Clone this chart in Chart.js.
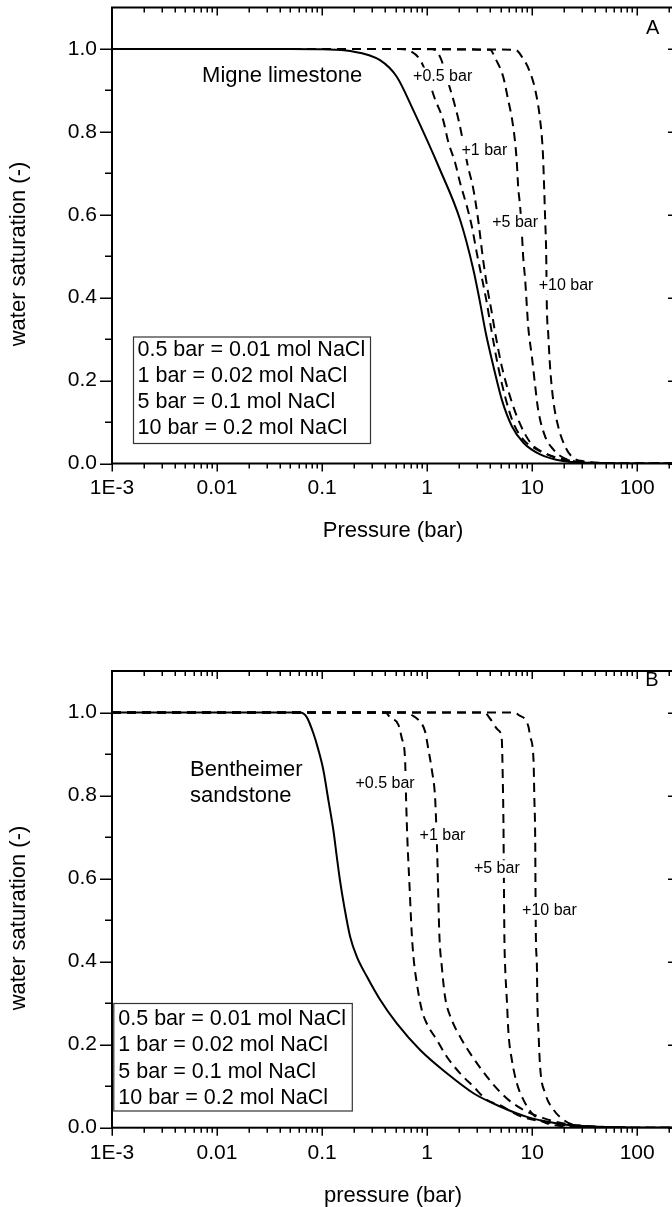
<!DOCTYPE html>
<html><head><meta charset="utf-8">
<script src="https://cdn.jsdelivr.net/npm/chart.js@4.4.1/dist/chart.umd.min.js"></script>
<style>
html,body{margin:0;padding:0;background:#fff;width:672px;height:1207px;overflow:hidden;position:relative;}
.wrap{position:absolute;left:0;width:690px;}
#wa{top:0;height:580px;}
#wb{top:600px;height:607px;}
canvas{display:block;}
</style></head><body>
<div class="wrap" id="wa"><canvas id="ca" width="690" height="580"></canvas></div>
<div class="wrap" id="wb"><canvas id="cb" width="690" height="607"></canvas></div>
<script>
// ---------- data (pressure in bar, water saturation) ----------
const xTickValues = [0.001, 0.01, 0.1, 1, 10, 100];
const xTickLabels = ['1E-3', '0.01', '0.1', '1', '10', '100'];
const yTickValues = [0, 0.2, 0.4, 0.6, 0.8, 1.0];
const yTickLabels = ['0.0', '0.2', '0.4', '0.6', '0.8', '1.0'];
const legendLines = ['0.5 bar = 0.01 mol NaCl', '1 bar = 0.02 mol NaCl', '5 bar = 0.1 mol NaCl', '10 bar = 0.2 mol NaCl'];
const curveLabels = ['+0.5 bar', '+1 bar', '+5 bar', '+10 bar'];

// Panel A: Migne limestone
const limeSolidP = [0.001, 0.01, 0.05, 0.1, 0.185, 0.356, 0.514, 0.736, 1.33, 2.06, 2.76, 3.16, 3.61, 4.28, 5.14, 6.41, 8.26, 11.9, 19.7, 44.5, 100, 250];
const limeSolidS = [1, 1, 1, 0.999, 0.995, 0.973, 0.933, 0.853, 0.708, 0.588, 0.467, 0.394, 0.316, 0.234, 0.154, 0.090, 0.050, 0.022, 0.006, 0.001, 0, 0];
const lime05P = [0.001, 0.1, 0.55, 0.69, 0.86, 1.01, 1.18, 1.42, 1.585, 1.85, 2.06, 2.40, 2.67, 2.97, 3.66, 4.13, 4.74, 5.53, 6.59, 8.2, 10.2, 13.9, 20.6, 44.5, 100, 250];
const lime05S = [1, 1, 1, 0.995, 0.973, 0.933, 0.881, 0.829, 0.777, 0.725, 0.677, 0.619, 0.571, 0.508, 0.394, 0.316, 0.234, 0.161, 0.099, 0.058, 0.039, 0.022, 0.007, 0.001, 0, 0];
const lime1P = [0.001, 0.1, 1.1, 1.2, 1.36, 1.52, 1.81, 2.02, 2.45, 2.74, 3.06, 3.41, 3.81, 4.13, 4.44, 5.14, 6.17, 7.36, 9.57, 12.7, 18.5, 44.5, 100, 250];
const lime1S = [1, 1, 1, 0.997, 0.975, 0.935, 0.870, 0.822, 0.716, 0.665, 0.588, 0.492, 0.412, 0.364, 0.316, 0.234, 0.161, 0.106, 0.051, 0.027, 0.012, 0.001, 0, 0];
const lime5P = [0.001, 0.1, 3.98, 4.44, 5.30, 5.91, 6.45, 6.89, 7.15, 7.36, 7.69, 7.98, 8.21, 8.58, 8.91, 9.17, 9.94, 10.7, 11.4, 13.3, 15.9, 19.7, 25.7, 44.5, 100, 250];
const lime5S = [1, 1, 0.998, 0.978, 0.933, 0.877, 0.829, 0.773, 0.725, 0.667, 0.619, 0.557, 0.499, 0.443, 0.378, 0.330, 0.258, 0.186, 0.130, 0.065, 0.034, 0.014, 0.005, 0.001, 0, 0];
const lime10P = [0.001, 0.1, 6.9, 8.04, 9.36, 10.7, 11.9, 12.65, 13.0, 13.3, 13.6, 13.8, 14.2, 14.8, 15.85, 17.7, 20.6, 24.5, 32, 55, 100, 250];
const lime10S = [1, 1, 0.998, 0.98, 0.949, 0.901, 0.829, 0.749, 0.667, 0.588, 0.508, 0.378, 0.316, 0.234, 0.154, 0.089, 0.041, 0.014, 0.005, 0.001, 0, 0];

// Panel B: Bentheimer sandstone
const bentSolidP = [0.001, 0.01, 0.0616, 0.0714, 0.0826, 0.0922, 0.1029, 0.1148, 0.128, 0.138, 0.148, 0.162, 0.185, 0.214, 0.267, 0.357, 0.514, 0.858, 1.54, 2.76, 4.95, 8.91, 15.85, 28.6, 60, 100, 250];
const bentSolidS = [1, 1, 1, 0.989, 0.95, 0.91, 0.861, 0.789, 0.717, 0.653, 0.596, 0.535, 0.460, 0.412, 0.364, 0.308, 0.251, 0.187, 0.131, 0.083, 0.051, 0.026, 0.012, 0.004, 0.001, 0, 0];
const bent05P = [0.001, 0.1, 0.40, 0.445, 0.533, 0.574, 0.617, 0.631, 0.649, 0.678, 0.714, 0.741, 0.798, 0.891, 0.993, 1.24, 1.54, 2.06, 2.76, 3.70, 4.95, 7.69, 13.8, 24.5, 60, 100, 250];
const bent05S = [1, 1, 1, 0.988, 0.970, 0.938, 0.886, 0.789, 0.693, 0.589, 0.468, 0.412, 0.348, 0.283, 0.251, 0.211, 0.171, 0.131, 0.099, 0.067, 0.054, 0.028, 0.013, 0.004, 0.001, 0, 0];
const bent1P = [0.001, 0.1, 0.65, 0.714, 0.826, 0.957, 1.03, 1.11, 1.19, 1.22, 1.25, 1.28, 1.31, 1.38, 1.48, 1.72, 2.06, 2.57, 3.32, 4.44, 5.95, 8.26, 12.8, 21.4, 60, 100, 250];
const bent1S = [1, 1, 1, 0.994, 0.982, 0.954, 0.910, 0.861, 0.797, 0.733, 0.653, 0.548, 0.460, 0.388, 0.316, 0.259, 0.219, 0.179, 0.139, 0.099, 0.067, 0.043, 0.023, 0.009, 0.001, 0, 0];
const bent5P = [0.001, 0.1, 3.5, 3.98, 4.74, 5.14, 5.26, 5.33, 5.37, 5.41, 5.45, 5.53, 5.74, 5.95, 6.41, 7.15, 8.26, 9.93, 12.8, 18.5, 40, 100, 250];
const bent5S = [1, 1, 1, 0.985, 0.958, 0.934, 0.830, 0.734, 0.629, 0.524, 0.445, 0.388, 0.308, 0.228, 0.163, 0.107, 0.067, 0.035, 0.014, 0.004, 0.001, 0, 0];
const bent10P = [0.001, 0.1, 6.6, 7.42, 9.22, 9.57, 10.3, 10.5, 10.7, 10.75, 10.85, 11.1, 11.2, 11.5, 11.9, 13.3, 16.0, 19.9, 24.7, 60, 100, 250];
const bent10S = [1, 1, 1, 0.994, 0.966, 0.942, 0.886, 0.789, 0.686, 0.589, 0.46, 0.388, 0.308, 0.228, 0.147, 0.083, 0.043, 0.019, 0.007, 0.001, 0, 0];

// ---------- rendering ----------
const FONT = "'Liberation Sans', Arial, Helvetica, sans-serif";
const X_MIN = 0.001, X_MAX = 250, Y_MIN = 0, Y_MAX = 1.1;
const yMinorValues = [0.1, 0.3, 0.5, 0.7, 0.9];

function xMinorValues() {
  const out = [];
  for (let d = -3; d <= 2; d++) for (let m = 2; m <= 9; m++) {
    const v = m * Math.pow(10, d);
    if (v < X_MAX) out.push(v);
  }
  return out;
}

const decorPlugin = {
  id: 'decor',
  afterDraw(chart, args, o) {
    const {ctx, chartArea: a, scales: {x, y}} = chart;
    ctx.save();
    for (const t of o.texts) {
      ctx.font = t.size + 'px ' + FONT;
      const px = x.getPixelForValue(t.x), py = y.getPixelForValue(t.y);
      const w = ctx.measureText(t.text).width;
      const left = t.align === 'left' ? px : px - w / 2;
      if (t.bg) { ctx.fillStyle = '#fff'; ctx.fillRect(left - 2, py - t.size * 0.55, w + 4, t.size * 1.1); }
      ctx.fillStyle = '#000'; ctx.textAlign = 'left'; ctx.textBaseline = 'middle';
      ctx.fillText(t.text, left, py);
    }
    const b = o.box;
    const bx = a.left + b.dx, by = a.top + b.dy;
    ctx.fillStyle = '#fff'; ctx.fillRect(bx, by, b.w, b.h);
    ctx.strokeStyle = '#333'; ctx.lineWidth = 1.2; ctx.strokeRect(bx + 0.5, by + 0.5, b.w, b.h);
    ctx.fillStyle = '#000'; ctx.font = b.size + 'px ' + FONT; ctx.textAlign = 'left'; ctx.textBaseline = 'alphabetic';
    legendLines.forEach((l, i) => ctx.fillText(l, bx + b.padX, by + b.first + i * b.step));
    ctx.strokeStyle = '#000'; ctx.lineWidth = 2;
    ctx.strokeRect(a.left, a.top, a.right - a.left, a.bottom - a.top);
    ctx.lineWidth = 1.5;
    ctx.beginPath();
    const xt = (v, len) => {
      const px = Math.round(x.getPixelForValue(v)) + 0.25;
      ctx.moveTo(px, a.bottom); ctx.lineTo(px, a.bottom + len);
      ctx.moveTo(px, a.top); ctx.lineTo(px, a.top + len);
    };
    const yt = (v, lenL, lenR) => {
      const py = Math.round(y.getPixelForValue(v)) + 0.25;
      ctx.moveTo(a.left - lenL, py); ctx.lineTo(a.left, py);
      ctx.moveTo(a.right - lenR, py); ctx.lineTo(a.right, py);
    };
    xTickValues.forEach(v => xt(v, 8));
    xMinorValues().forEach(v => xt(v, 5));
    yTickValues.forEach(v => yt(v, 12, 11));
    yMinorValues.forEach(v => yt(v, 7, 7));
    ctx.stroke();
    ctx.fillStyle = '#000';
    ctx.font = '22px ' + FONT; ctx.textAlign = 'center'; ctx.textBaseline = 'alphabetic';
    ctx.fillText(o.xTitle, o.xTitleX, a.bottom + o.xTitleOffset);
    ctx.save();
    ctx.translate(o.yTitleX, a.top + o.yTitleOffset);
    ctx.rotate(-Math.PI / 2);
    ctx.textBaseline = 'middle';
    ctx.fillText(o.yTitle, 0, 0);
    ctx.restore();
    ctx.restore();
  }
};

function ds(P, S, dashed) {
  return {
    data: P.map((p, i) => ({x: p, y: S[i]})),
    borderColor: '#000', borderWidth: 2, borderDash: dashed ? [9, 6] : [],
    pointRadius: 0, fill: false, cubicInterpolationMode: 'monotone'
  };
}

function makeChart(id, series, padTop, xHeight, decor) {
  return new Chart(document.getElementById(id), {
    type: 'line',
    data: {datasets: series},
    options: {
      responsive: false, animation: false, events: [],
      layout: {padding: {top: padTop, right: 11, left: 0, bottom: 0}},
      plugins: {legend: {display: false}, tooltip: {enabled: false}, decor: decor},
      scales: {
        x: {
          type: 'logarithmic', min: X_MIN, max: X_MAX,
          afterBuildTicks: s => { s.ticks = xTickValues.map(v => ({value: v})); },
          afterFit: s => { s.height = xHeight; s.paddingLeft = 0; s.paddingRight = 0; },
          grid: {display: false, drawTicks: false}, border: {display: false},
          ticks: {autoSkip: false, maxRotation: 0, minRotation: 0, padding: 12.5, color: '#000',
            font: {family: FONT, size: 21}, callback: (v, i) => xTickLabels[i]}
        },
        y: {
          type: 'linear', min: Y_MIN, max: Y_MAX,
          afterBuildTicks: s => { s.ticks = yTickValues.map(v => ({value: v})); },
          afterFit: s => { s.width = 112; s.paddingTop = 0; s.paddingBottom = 0; },
          grid: {display: false, drawTicks: false}, border: {display: false},
          ticks: {padding: 15, color: '#000', font: {family: FONT, size: 21}, callback: (v, i) => yTickLabels[i]}
        }
      }
    },
    plugins: [decorPlugin]
  });
}

makeChart('ca', [
  ds(limeSolidP, limeSolidS, false),
  ds(lime05P, lime05S, true),
  ds(lime1P, lime1S, true),
  ds(lime5P, lime5S, true),
  ds(lime10P, lime10S, true)
], 7.5, 116.5, {
  xTitle: 'Pressure (bar)', xTitleX: 393, xTitleOffset: 73,
  yTitle: 'water saturation (-)', yTitleX: 19, yTitleOffset: 246.5,
  box: {dx: 21, dy: 329, w: 237, h: 106.5, padX: 4.5, first: 19, step: 26, size: 21.5},
  texts: [
    {text: 'Migne limestone', x: 0.0072, y: 0.936, size: 22, align: 'left', bg: false},
    {text: curveLabels[0], x: 1.406, y: 0.934, size: 16, align: 'center', bg: true},
    {text: curveLabels[1], x: 3.51, y: 0.756, size: 16, align: 'center', bg: true},
    {text: curveLabels[2], x: 6.89, y: 0.581, size: 16, align: 'center', bg: true},
    {text: curveLabels[3], x: 21.0, y: 0.429, size: 16, align: 'center', bg: true},
    {text: 'A', x: 140.6, y: 1.049, size: 20, align: 'center', bg: false}
  ]
});

makeChart('cb', [
  ds(bentSolidP, bentSolidS, false),
  ds(bent05P, bent05S, true),
  ds(bent1P, bent1S, true),
  ds(bent5P, bent5S, true),
  ds(bent10P, bent10S, true)
], 71, 79.3, {
  xTitle: 'pressure (bar)', xTitleX: 393, xTitleOffset: 74,
  yTitle: 'water saturation (-)', yTitleX: 19, yTitleOffset: 247,
  box: {dx: 1.3, dy: 332, w: 238.5, h: 107.5, padX: 5, first: 21.5, step: 26.5, size: 21.5},
  texts: [
    {text: 'Bentheimer', x: 0.00553, y: 0.861, size: 22, align: 'left', bg: false},
    {text: 'sandstone', x: 0.00553, y: 0.798, size: 22, align: 'left', bg: false},
    {text: curveLabels[0], x: 0.398, y: 0.830, size: 16, align: 'center', bg: true},
    {text: curveLabels[1], x: 1.40, y: 0.704, size: 16, align: 'center', bg: true},
    {text: curveLabels[2], x: 4.61, y: 0.623, size: 16, align: 'center', bg: true},
    {text: curveLabels[3], x: 14.6, y: 0.522, size: 16, align: 'center', bg: true},
    {text: 'B', x: 138, y: 1.076, size: 20, align: 'center', bg: false}
  ]
});
</script>
</body></html>
